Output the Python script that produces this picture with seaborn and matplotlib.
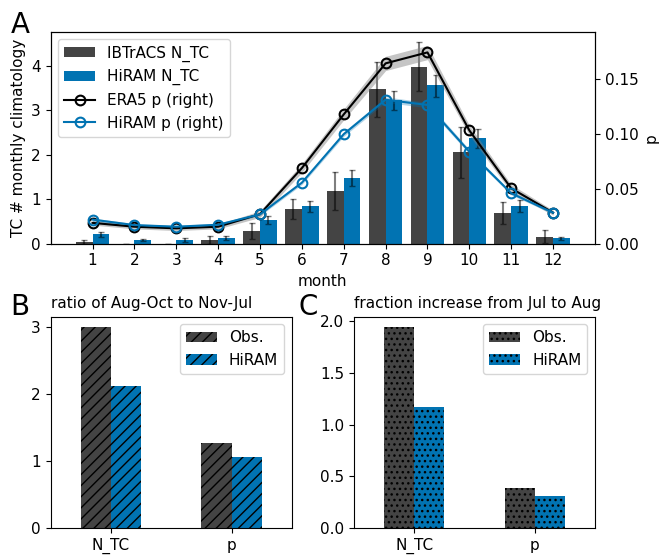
import numpy as np
import pandas as pd
import matplotlib
matplotlib.use("Agg")
import matplotlib.pyplot as plt
import seaborn as sns

# ---------------- data ----------------
months = [1, 2, 3, 4, 5, 6, 7, 8, 9, 10, 11, 12]
ibtracs_ntc = [0.03, 0.0, 0.0, 0.08, 0.28, 0.78, 1.18, 3.47, 3.97, 2.05, 0.69, 0.15]
ibtracs_lo = [0.0, 0.0, 0.0, 0.0, 0.10, 0.55, 0.75, 2.85, 3.42, 1.48, 0.45, 0.02]
ibtracs_hi = [0.08, 0.0, 0.0, 0.17, 0.47, 1.00, 1.62, 4.07, 4.52, 2.62, 0.94, 0.30]
hiram_ntc = [0.21, 0.08, 0.08, 0.12, 0.53, 0.84, 1.47, 3.22, 3.56, 2.37, 0.84, 0.12]
hiram_lo = [0.15, 0.05, 0.04, 0.08, 0.44, 0.72, 1.30, 3.00, 3.30, 2.15, 0.72, 0.09]
hiram_hi = [0.27, 0.11, 0.12, 0.18, 0.62, 0.96, 1.65, 3.43, 3.78, 2.57, 0.97, 0.16]

era5_p = [0.019, 0.0155, 0.014, 0.0155, 0.027, 0.069, 0.118, 0.1646, 0.1746, 0.1034, 0.0505, 0.0283]
era5_p_lo = [0.017, 0.0135, 0.012, 0.0135, 0.024, 0.065, 0.113, 0.158, 0.168, 0.099, 0.047, 0.026]
era5_p_hi = [0.021, 0.0175, 0.016, 0.0175, 0.030, 0.073, 0.123, 0.171, 0.181, 0.108, 0.054, 0.0305]
hiram_p = [0.022, 0.017, 0.0155, 0.0173, 0.0268, 0.0557, 0.100, 0.1314, 0.1266, 0.084, 0.046, 0.0283]
hiram_p_lo = [0.0205, 0.0158, 0.0143, 0.016, 0.0255, 0.054, 0.098, 0.129, 0.124, 0.082, 0.0445, 0.027]
hiram_p_hi = [0.0235, 0.0182, 0.0167, 0.0186, 0.0281, 0.0574, 0.102, 0.134, 0.129, 0.086, 0.0475, 0.0296]

metrics = ["N_TC", "p"]
ratio_obs = [3.0, 1.27]
ratio_hiram = [2.12, 1.06]
frac_obs = [1.942, 0.385]
frac_hiram = [1.167, 0.311]

# ---------------- style ----------------
GRAY = "#444444"
BLUE = "#0173b2"
plt.rcParams["font.family"] = ["DejaVu Sans"]
plt.rcParams["font.size"] = 11
plt.rcParams["hatch.color"] = "black"
plt.rcParams["hatch.linewidth"] = 1.0

fig = plt.figure(figsize=(6.61, 5.57), dpi=100)
axA = fig.add_axes([0.0766, 0.5625, 0.8235, 0.3806])
axB = fig.add_axes([0.0766, 0.0515, 0.365, 0.380])
axC = fig.add_axes([0.5356, 0.0515, 0.3646, 0.380])

# ---------------- panel A ----------------
m = np.array(months, dtype=float)
ib = np.array(ibtracs_ntc)
hr = np.array(hiram_ntc)
ib_err = [ib - np.array(ibtracs_lo), np.array(ibtracs_hi) - ib]
hr_err = [hr - np.array(hiram_lo), np.array(hiram_hi) - hr]
ekw = dict(ecolor=(0, 0, 0, 0.5), elinewidth=1.5, capsize=2, capthick=1)
b1 = axA.bar(m - 0.2, ib, width=0.4, color=GRAY, yerr=ib_err, error_kw=ekw,
             label="IBTrACS N_TC")
b2 = axA.bar(m + 0.2, hr, width=0.4, color=BLUE, yerr=hr_err, error_kw=ekw,
             label="HiRAM N_TC")
axA.set_xlim(0, 13)
axA.set_ylim(0, 4.76)
axA.set_xticks(months)
axA.set_yticks([0, 1, 2, 3, 4])
axA.set_xlabel("month")
axA.set_ylabel("TC # monthly climatology")

ax2 = axA.twinx()
dfp = pd.DataFrame({"month": months + months,
                    "p": era5_p + hiram_p,
                    "src": ["ERA5 p (right)"] * 12 + ["HiRAM p (right)"] * 12})
ax2.fill_between(months, era5_p_lo, era5_p_hi, color="gray", alpha=0.45, lw=0)
ax2.fill_between(months, hiram_p_lo, hiram_p_hi, color=BLUE, alpha=0.3, lw=0)
sns.lineplot(data=dfp, x="month", y="p", hue="src",
             palette={"ERA5 p (right)": "black", "HiRAM p (right)": BLUE},
             marker="o", markersize=7, markerfacecolor="none",
             markeredgewidth=1.5, linewidth=1.5, ax=ax2, legend=False)
for ln, c in zip(ax2.lines, ["black", BLUE]):
    ln.set_markeredgecolor(c)
ax2.set_ylim(0, 0.1935)
ax2.set_yticks([0, 0.05, 0.10, 0.15])
ax2.set_yticklabels(["0.00", "0.05", "0.10", "0.15"])
ax2.set_ylabel("p")
ax2.set_xlim(0, 13)

h_era = plt.Line2D([], [], color="black", marker="o", markerfacecolor="none",
                   markersize=7, markeredgewidth=1.5, lw=1.5)
h_hir = plt.Line2D([], [], color=BLUE, marker="o", markerfacecolor="none",
                   markersize=7, markeredgewidth=1.5, lw=1.5)
ax2.legend([b1, b2, h_era, h_hir],
           ["IBTrACS N_TC", "HiRAM N_TC", "ERA5 p (right)", "HiRAM p (right)"],
           loc="upper left", fontsize=11)
fig.text(0.016, 0.9408, "A", fontsize=20)

# ---------------- panel B & C ----------------
def panel(ax, obs, hir, hatch, title):
    df = pd.DataFrame({"metric": metrics + metrics,
                       "value": obs + hir,
                       "src": ["Obs."] * 2 + ["HiRAM"] * 2})
    sns.barplot(data=df, x="metric", y="value", hue="src",
                palette={"Obs.": GRAY, "HiRAM": BLUE}, width=0.5,
                saturation=1, ax=ax, legend=False)
    for cont, lab in zip(ax.containers, ["Obs.", "HiRAM"]):
        cont.set_label(lab)
        for p in cont:
            p.set_hatch(hatch)
            p.set_edgecolor("black")
            p.set_linewidth(0)
    ax.set_xlabel("")
    ax.set_ylabel("")
    ax.set_title(title, loc="left", fontsize=11)
    ax.legend(loc="upper right", fontsize=11)
    ax.set_xlim(-0.5, 1.5)

panel(axB, ratio_obs, ratio_hiram, "///", "ratio of Aug-Oct to Nov-Jul")
axB.set_yticks([0, 1, 2, 3])
panel(axC, frac_obs, frac_hiram, "...", "fraction increase from Jul to Aug")
axC.set_yticks([0, 0.5, 1.0, 1.5, 2.0])
fig.text(0.016, 0.4345, "B", fontsize=20)
fig.text(0.452, 0.4345, "C", fontsize=20)

fig.savefig("out.png", dpi=100)
